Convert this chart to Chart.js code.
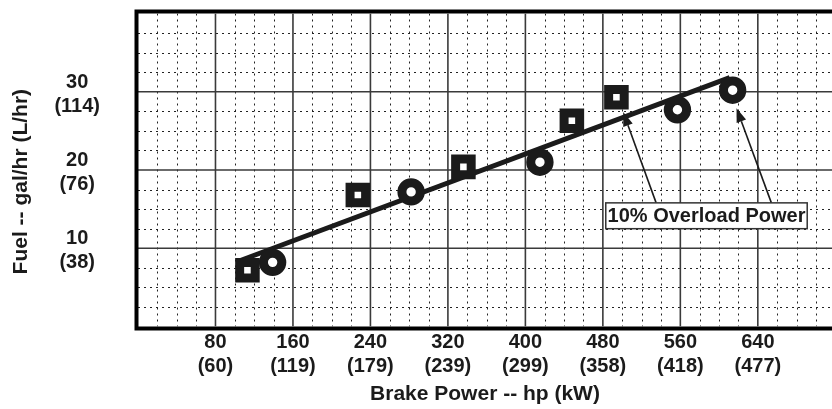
<!DOCTYPE html>
<html><head><meta charset="utf-8">
<script src="https://cdn.jsdelivr.net/npm/chart.js@4.4.1/dist/chart.umd.min.js"></script>
<style>html,body{margin:0;padding:0;background:#fff;overflow:hidden}#wrap{width:832px;height:409px;position:relative}</style>
</head><body><div id="wrap"><canvas id="c"></canvas></div>
<script>
// ---- data ----
const xTickHp = [80, 160, 240, 320, 400, 480, 560, 640];
const xTickKw = [60, 119, 179, 239, 299, 358, 418, 477];
const yTickGal = [10, 20, 30];
const yTickL = [38, 76, 114];
const squareHp = [113, 227, 336, 448, 494];
const squareFuel = [7.2, 16.8, 20.4, 26.3, 29.3];
const circleHp = [139, 282, 415, 557, 614];
const circleFuel = [8.2, 17.2, 21.0, 27.7, 30.2];
const lineHp = [105, 611];
const lineFuel = [8.4, 31.8];
const noteText = '10% Overload Power';
const noteBoxHp = [483, 691];
const noteBoxFuel = [12.5, 15.8];
const arrowFromHp = [535, 654];
const arrowFromFuel = [15.8, 15.8];
const arrowToHp = [501, 618];
const arrowToFuel = [27.4, 27.9];

const INK = '#1b1b1b';
const FONT = "'Liberation Sans', Arial, sans-serif";

const pts = (xs, ys) => xs.map((v, i) => ({x: v, y: ys[i]}));

const framePlugin = {
  id: 'framePlugin',
  beforeDatasetsDraw(chart) {
    const {ctx, chartArea: a, scales: {x, y}} = chart;
    ctx.save();
    ctx.beginPath(); ctx.rect(a.left, a.top, a.right - a.left, a.bottom - a.top); ctx.clip();
    const seg = (x1, y1, x2, y2) => { ctx.beginPath(); ctx.moveTo(x1, y1); ctx.lineTo(x2, y2); ctx.stroke(); };
    // minor dotted grid
    ctx.strokeStyle = '#222'; ctx.lineWidth = 1; ctx.setLineDash([2, 4]);
    for (let v = 20; v < x.max; v += 20) {
      if (v % 80 === 0) continue;
      const p = Math.round(x.getPixelForValue(v)) + 0.5; seg(p, a.top, p, a.bottom);
    }
    for (let v = 2.5; v < y.max; v += 2.5) {
      if (v % 10 === 0) continue;
      const p = Math.round(y.getPixelForValue(v)) + 0.5; seg(a.left, p, a.right, p);
    }
    // major solid grid
    ctx.setLineDash([]); ctx.strokeStyle = '#3a3a3a'; ctx.lineWidth = 1.6;
    for (let v = 80; v < x.max; v += 80) { const p = x.getPixelForValue(v); seg(p, a.top, p, a.bottom); }
    for (let v = 10; v < y.max; v += 10) { const p = y.getPixelForValue(v); seg(a.left, p, a.right, p); }
    ctx.restore();
  },
  afterDraw(chart) {
    const {ctx, chartArea: a, scales: {x, y}} = chart;
    ctx.save();
    // heavy frame (left, top, bottom)
    ctx.strokeStyle = '#000'; ctx.lineWidth = 4; ctx.lineJoin = 'miter';
    ctx.beginPath();
    ctx.moveTo(a.right + 5, a.top - 2);
    ctx.lineTo(a.left - 1.5, a.top - 2);
    ctx.lineTo(a.left - 1.5, a.bottom + 2);
    ctx.lineTo(a.right + 5, a.bottom + 2);
    ctx.stroke();
    // annotation arrows
    ctx.strokeStyle = INK; ctx.fillStyle = INK; ctx.lineWidth = 1.6;
    for (let i = 0; i < arrowFromHp.length; i++) {
      const x1 = x.getPixelForValue(arrowFromHp[i]), y1 = y.getPixelForValue(arrowFromFuel[i]);
      const x2 = x.getPixelForValue(arrowToHp[i]), y2 = y.getPixelForValue(arrowToFuel[i]);
      const ang = Math.atan2(y2 - y1, x2 - x1);
      const L = 14, W = 5;
      const bx = x2 - L * Math.cos(ang), by = y2 - L * Math.sin(ang);
      ctx.beginPath(); ctx.moveTo(x1, y1); ctx.lineTo(bx, by); ctx.stroke();
      ctx.beginPath();
      ctx.moveTo(x2, y2);
      ctx.lineTo(bx + W * Math.sin(ang), by - W * Math.cos(ang));
      ctx.lineTo(bx - W * Math.sin(ang), by + W * Math.cos(ang));
      ctx.closePath(); ctx.fill();
    }
    // annotation box + text
    const bx1 = x.getPixelForValue(noteBoxHp[0]), bx2 = x.getPixelForValue(noteBoxHp[1]);
    const by1 = y.getPixelForValue(noteBoxFuel[1]), by2 = y.getPixelForValue(noteBoxFuel[0]);
    ctx.fillStyle = '#fff'; ctx.fillRect(bx1, by1, bx2 - bx1, by2 - by1);
    ctx.strokeStyle = '#333'; ctx.lineWidth = 1.5; ctx.strokeRect(bx1, by1, bx2 - bx1, by2 - by1);
    ctx.fillStyle = INK; ctx.font = "bold 20px " + FONT;
    ctx.textAlign = 'center'; ctx.textBaseline = 'middle';
    ctx.fillText(noteText, (bx1 + bx2) / 2, (by1 + by2) / 2 + 1);
    ctx.restore();
  }
};

new Chart(document.getElementById('c'), {
  type: 'scatter',
  data: {
    datasets: [
      {
        label: 'Trend', type: 'line', data: pts(lineHp, lineFuel),
        borderColor: INK, borderWidth: 5, pointRadius: 0, fill: false, tension: 0, order: 3
      },
      {
        label: 'Squares', data: pts(squareHp, squareFuel),
        pointStyle: 'rect', pointRadius: 11, borderWidth: 9,
        borderColor: INK, backgroundColor: '#fff', pointBorderColor: INK, pointBackgroundColor: '#fff', order: 1
      },
      {
        label: 'Circles', data: pts(circleHp, circleFuel),
        pointStyle: 'circle', pointRadius: 9.2, borderWidth: 9,
        borderColor: INK, backgroundColor: '#fff', pointBorderColor: INK, pointBackgroundColor: '#fff', order: 2
      }
    ]
  },
  options: {
    responsive: true, maintainAspectRatio: false, animation: false, devicePixelRatio: 1,
    layout: {autoPadding: false, padding: {top: 13.5, right: 0, left: 0, bottom: 0}},
    plugins: {legend: {display: false}, tooltip: {enabled: false}},
    events: [],
    scales: {
      x: {
        type: 'linear', min: 0, max: 716.6,
        grid: {display: false, drawTicks: false}, border: {display: false},
        afterBuildTicks: (s) => { s.ticks = xTickHp.map(v => ({value: v})); },
        ticks: {
          autoSkip: false, maxRotation: 0, padding: 3.5,
          color: INK, font: {family: FONT, size: 20, weight: 'bold', lineHeight: 1.2},
          callback: (v) => { const i = xTickHp.indexOf(v); return i < 0 ? '' : [String(xTickHp[i]), '(' + xTickKw[i] + ')']; }
        },
        title: {display: true, text: 'Brake Power -- hp (kW)', color: INK,
          font: {family: FONT, size: 21, weight: 'bold', lineHeight: 1.2}, padding: {top: 0, bottom: 2}},
        afterFit: (s) => { s.height = 82.5; s.paddingLeft = 0; s.paddingRight = 0; }
      },
      y: {
        type: 'linear', min: 0, max: 40,
        grid: {display: false, drawTicks: false}, border: {display: false},
        afterBuildTicks: (s) => { s.ticks = yTickGal.map(v => ({value: v})); },
        ticks: {
          autoSkip: false, crossAlign: 'center', padding: 38, labelOffset: 2.5,
          color: INK, font: {family: FONT, size: 20, weight: 'bold', lineHeight: 1.2},
          callback: (v) => { const i = yTickGal.indexOf(v); return i < 0 ? '' : [String(yTickGal[i]), '(' + yTickL[i] + ')']; }
        },
        title: {display: true, text: 'Fuel -- gal/hr (L/hr)    ', color: INK,
          font: {family: FONT, size: 21, weight: 'bold', lineHeight: 1.2}, padding: {top: 9, bottom: 0}},
        afterFit: (s) => { s.width = 138; s.paddingTop = 0; s.paddingBottom = 0; }
      }
    }
  },
  plugins: [framePlugin]
});
</script>
</body></html>
